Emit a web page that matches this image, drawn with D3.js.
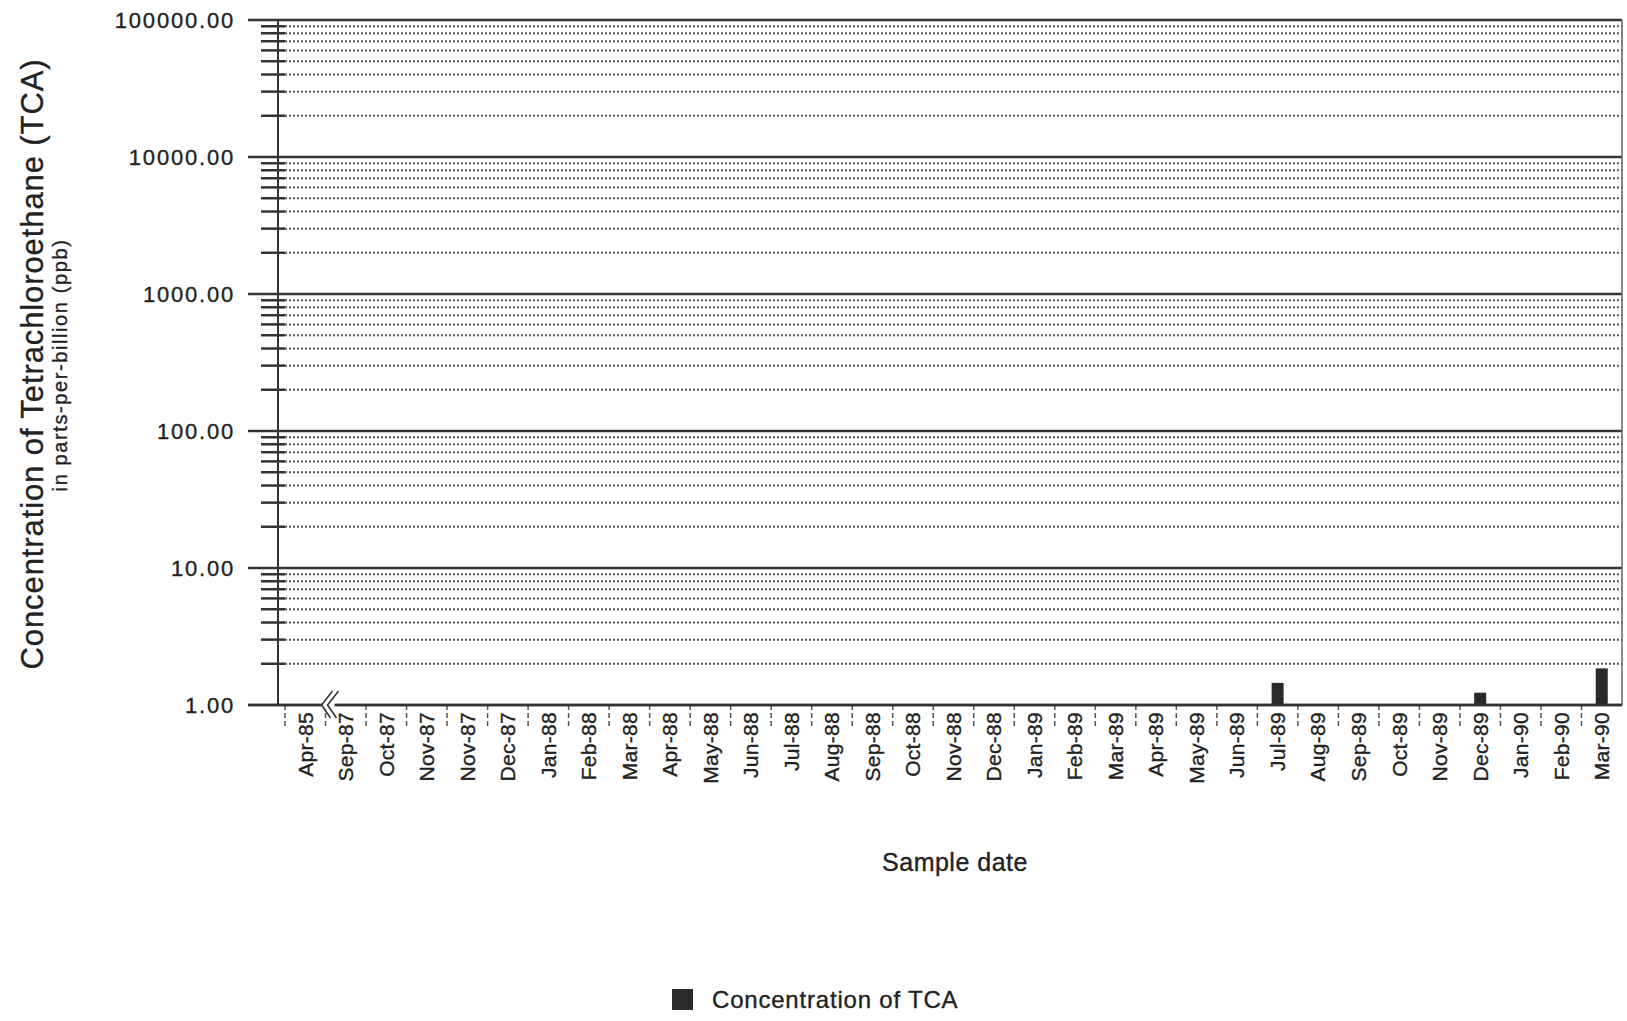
<!DOCTYPE html>
<html>
<head>
<meta charset="utf-8">
<script src="https://cdn.jsdelivr.net/npm/d3@7"></script>
<style>
  body { margin: 0; background: #fff; }
  text { font-family: "Liberation Sans", Arial, sans-serif; fill: #222; stroke: #222; stroke-width: 0.35px; }
</style>
</head>
<body>
<div class="canvas"></div>
<script>
// data
const sampleDates = ["Apr-85", "Sep-87", "Oct-87", "Nov-87", "Nov-87", "Dec-87", "Jan-88", "Feb-88",
  "Mar-88", "Apr-88", "May-88", "Jun-88", "Jul-88", "Aug-88", "Sep-88", "Oct-88", "Nov-88", "Dec-88",
  "Jan-89", "Feb-89", "Mar-89", "Apr-89", "May-89", "Jun-89", "Jul-89", "Aug-89", "Sep-89", "Oct-89",
  "Nov-89", "Dec-89", "Jan-90", "Feb-90", "Mar-90"];
const tcaValues = [null, null, null, null, null, null, null, null,
  null, null, null, null, null, null, null, null, null, null,
  null, null, null, null, null, null, 1.45, null, null, null,
  null, 1.23, null, null, 1.85];
const yTicks = [1, 10, 100, 1000, 10000, 100000];
const seriesName = "Concentration of TCA";

const dims = { width: 1627, height: 1021 };
const plot = { left: 285, right: 1622, top: 20, bottom: 705 };

const svg = d3.select(".canvas")
  .append("svg")
  .attr("width", dims.width)
  .attr("height", dims.height);

const x = d3.scaleBand()
  .domain(d3.range(sampleDates.length))
  .range([plot.left, plot.right]);

const y = d3.scaleLog()
  .domain([1, 100000])
  .range([plot.bottom, plot.top]);

//minor grid (2..9 in each decade), dotted
const minor = [];
yTicks.slice(0, -1).forEach(t => {
  for (let k = 2; k <= 9; k++) minor.push(t * k);
});

const grid = svg.append("g");

grid.selectAll(".minor-tick")
  .data(minor)
  .enter().append("line")
  .attr("x1", 261).attr("x2", plot.left)
  .attr("y1", d => y(d)).attr("y2", d => y(d))
  .attr("stroke", "#333").attr("stroke-width", 2.5);

grid.selectAll(".minor")
  .data(minor)
  .enter().append("line")
  .attr("x1", plot.left).attr("x2", plot.right)
  .attr("y1", d => y(d)).attr("y2", d => y(d))
  .attr("stroke", "#555")
  .attr("stroke-width", 2)
  .attr("stroke-dasharray", "2,2");

//major decade lines
grid.selectAll(".major")
  .data(yTicks)
  .enter().append("line")
  .attr("x1", 248).attr("x2", plot.right)
  .attr("y1", d => y(d)).attr("y2", d => y(d))
  .attr("stroke", "#333")
  .attr("stroke-width", 2.5);

//y tick labels
svg.append("g").selectAll("text")
  .data(yTicks)
  .enter().append("text")
  .attr("x", 235)
  .attr("y", d => y(d))
  .attr("dy", "0.36em")
  .attr("text-anchor", "end")
  .style("font-size", "22px")
  .style("letter-spacing", "1.8px")
  .text(d3.format(".2f"));

//axes frame
svg.append("line")
  .attr("x1", 278).attr("x2", 278)
  .attr("y1", plot.top).attr("y2", plot.bottom)
  .attr("stroke", "#333").attr("stroke-width", 2);

svg.append("line")
  .attr("x1", plot.right).attr("x2", plot.right)
  .attr("y1", plot.top).attr("y2", plot.bottom)
  .attr("stroke", "#666").attr("stroke-width", 1.5);

//x ticks: dashed stubs between samples
svg.append("g").selectAll("line")
  .data(d3.range(sampleDates.length))
  .enter().append("line")
  .attr("x1", d => x(d)).attr("x2", d => x(d))
  .attr("y1", plot.bottom).attr("y2", plot.bottom + 24)
  .attr("stroke", "#555")
  .attr("stroke-width", 1.5)
  .attr("stroke-dasharray", "5,3");

//bars
svg.append("g").selectAll("rect")
  .data(tcaValues.map((v, i) => ({ v, i })).filter(d => d.v != null))
  .enter().append("rect")
  .attr("x", d => x(d.i) + x.bandwidth() / 2 - 6)
  .attr("width", 12)
  .attr("y", d => y(d.v))
  .attr("height", d => plot.bottom - y(d.v))
  .attr("fill", "#2a2a2a");

//x tick labels
svg.append("g").selectAll("text")
  .data(sampleDates)
  .enter().append("text")
  .attr("transform", (d, i) => `translate(${x(i) + x.bandwidth() / 2},712) rotate(-90)`)
  .attr("dy", "0.35em")
  .attr("text-anchor", "end")
  .style("font-size", "21px")
  .style("letter-spacing", "0.3px")
  .text(d => d);

//axis break between Apr-85 and Sep-87
const brk = svg.append("g").attr("transform", `translate(${x(1) + 2},${plot.bottom})`);
brk.append("rect").attr("x", -7).attr("y", -4).attr("width", 16).attr("height", 8).attr("fill", "#fff");
[-2, 4].forEach(dx => {
  brk.append("path")
    .attr("d", `M${dx + 7},-14 L${dx - 4},0 L${dx + 5},13`)
    .attr("fill", "none")
    .attr("stroke", "#333")
    .attr("stroke-width", 1.6);
});

//baseline drawn on top of bars
svg.append("line")
  .attr("x1", 248).attr("x2", x(1) - 3)
  .attr("y1", plot.bottom).attr("y2", plot.bottom)
  .attr("stroke", "#333").attr("stroke-width", 2.5);
svg.append("line")
  .attr("x1", x(1) + 9).attr("x2", plot.right)
  .attr("y1", plot.bottom).attr("y2", plot.bottom)
  .attr("stroke", "#333").attr("stroke-width", 2.5);

//axis titles
svg.append("text")
  .attr("transform", "translate(43,364) rotate(-90)")
  .attr("text-anchor", "middle")
  .style("font-size", "31px")
  .style("letter-spacing", "0.9px")
  .text("Concentration of Tetrachloroethane (TCA)");

svg.append("text")
  .attr("transform", "translate(67,365) rotate(-90)")
  .attr("text-anchor", "middle")
  .style("font-size", "20px")
  .style("letter-spacing", "1.6px")
  .text("in parts-per-billion (ppb)");

svg.append("text")
  .attr("x", 955)
  .attr("y", 871)
  .attr("text-anchor", "middle")
  .style("font-size", "25px")
  .style("letter-spacing", "0.5px")
  .text("Sample date");

//legend
const legend = svg.append("g").attr("transform", "translate(672,989)");
legend.append("rect")
  .attr("width", 21).attr("height", 21)
  .attr("fill", "#2a2a2a");
legend.append("text")
  .attr("x", 40).attr("y", 19)
  .style("font-size", "24px")
  .style("letter-spacing", "0.8px")
  .text(seriesName);
</script>
</body>
</html>
